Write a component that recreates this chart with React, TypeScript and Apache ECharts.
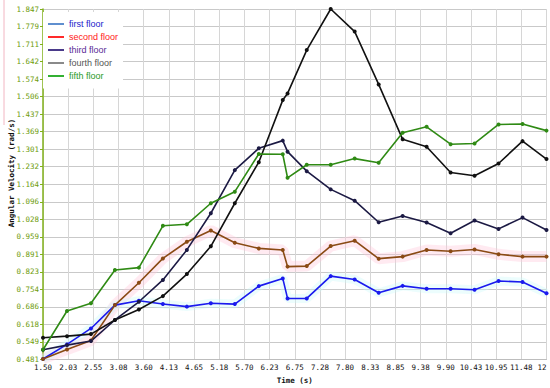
import React, { useEffect, useRef } from "react";
import * as echarts from "echarts";

const times = [1.5, 2, 2.5, 3, 3.5, 4, 4.5, 5, 5.5, 6, 6.5, 6.6, 7, 7.5, 8, 8.5, 9, 9.5, 10, 10.5, 11, 11.5, 12];

const firstFloor = [0.483, 0.54, 0.602, 0.693, 0.71, 0.697, 0.687, 0.7, 0.697, 0.767, 0.797, 0.719, 0.719, 0.806, 0.793, 0.741, 0.768, 0.757, 0.757, 0.753, 0.787, 0.783, 0.739];
const secondFloor = [0.483, 0.52, 0.555, 0.693, 0.78, 0.875, 0.94, 0.984, 0.936, 0.914, 0.908, 0.843, 0.845, 0.923, 0.944, 0.874, 0.882, 0.908, 0.903, 0.91, 0.891, 0.882, 0.882];
const thirdFloor = [0.519, 0.537, 0.553, 0.635, 0.706, 0.791, 0.908, 1.051, 1.219, 1.304, 1.334, 1.291, 1.215, 1.144, 1.1, 1.016, 1.04, 1.015, 0.973, 1.023, 0.99, 1.034, 0.986];
const fourthFloor = [0.566, 0.572, 0.58, 0.635, 0.676, 0.728, 0.814, 0.922, 1.09, 1.25, 1.492, 1.518, 1.687, 1.847, 1.759, 1.553, 1.339, 1.31, 1.21, 1.197, 1.245, 1.332, 1.262];
const fifthFloor = [0.519, 0.67, 0.7, 0.83, 0.839, 1.002, 1.008, 1.09, 1.135, 1.282, 1.281, 1.189, 1.24, 1.24, 1.264, 1.248, 1.365, 1.388, 1.32, 1.323, 1.397, 1.399, 1.373];

const xTickLabels = ["1.50", "2.03", "2.55", "3.08", "3.60", "4.13", "4.65", "5.18", "5.70", "6.23", "6.75", "7.28", "7.80", "8.33", "8.85", "9.38", "9.90", "10.43", "10.95", "11.48", "12"];
const yTickLabels = ["0.481", "0.549", "0.618", "0.686", "0.754", "0.823", "0.891", "0.959", "1.028", "1.096", "1.164", "1.232", "1.301", "1.369", "1.437", "1.506", "1.574", "1.642", "1.711", "1.779", "1.847"];

const seriesNames = ["first floor", "second floor", "third floor", "fourth floor", "fifth floor"];
const lineColors = ["#1a1aee", "#8a4a14", "#1c1a44", "#111111", "#2f8a14"];
const legendIconColors = ["#5f8fcf", "#ff2a2a", "#4a3a8a", "#8a8a8a", "#33b033"];
const legendTextColors = ["#2222cc", "#ff2020", "#5a2a96", "#555555", "#2a9a2a"];

const X_MIN = 1.5, X_MAX = 12, X_INT = 0.525;
const Y_MIN = 0.481, Y_MAX = 1.847, Y_INT = 0.0683;

function pairs(vals: number[]) {
  return times.map((t, i) => [t, vals[i]]);
}

export default function App() {
  const ref = useRef<HTMLDivElement>(null);
  useEffect(() => {
    if (!ref.current) return;
    const chart = echarts.init(ref.current, null, { renderer: "svg" });
    const all = [firstFloor, secondFloor, thirdFloor, fourthFloor, fifthFloor];
    const mono = "DejaVu Sans Mono";
    const lineSeries = all.map((vals, i) => ({
      name: seriesNames[i],
      type: "line",
      data: pairs(vals),
      symbol: "circle",
      symbolSize: 4,
      showSymbol: true,
      lineStyle: { color: lineColors[i], width: 1.6 },
      itemStyle: { color: lineColors[i] },
      z: 3,
    }));
    const bandSeries = [
      {
        type: "line",
        data: pairs(secondFloor),
        symbol: "none",
        silent: true,
        lineStyle: { color: "rgba(255,200,218,0.38)", width: 11 },
        z: 1,
      },
      {
        type: "line",
        data: pairs(firstFloor),
        symbol: "none",
        silent: true,
        lineStyle: { color: "rgba(200,250,250,0.35)", width: 9 },
        z: 1,
      },
    ];
    chart.setOption({
      animation: false,
      backgroundColor: "#ffffff",
      grid: { left: 43, right: 3.5, top: 9, bottom: 28.5, containLabel: false, outerBoundsMode: "none" },
      legend: {
        orient: "vertical",
        left: 43,
        top: 12,
        padding: [7.5, 5, 8, 5],
        backgroundColor: "#ffffff",
        itemWidth: 16,
        itemHeight: 2,
        itemGap: 4,
        icon: "rect",
        textStyle: { fontSize: 9, fontFamily: "Liberation Sans" },
        data: seriesNames.map((n, i) => ({
          name: n,
          icon: "rect",
          itemStyle: { color: legendIconColors[i] },
          lineStyle: { color: legendIconColors[i] },
          textStyle: { color: legendTextColors[i], fontSize: 9, fontFamily: "Liberation Sans" },
        })),
      },
      xAxis: {
        type: "value",
        min: X_MIN,
        max: X_MAX,
        interval: X_INT,
        name: "Time (s)",
        nameLocation: "middle",
        nameGap: 17,
        nameTextStyle: { fontFamily: mono, fontWeight: "bold", fontSize: 7.5, color: "#111" },
        axisLine: { show: true, lineStyle: { color: "#bdbdbd", width: 1 } },
        axisTick: { show: false },
        axisLabel: {
          color: "#111",
          fontSize: 7.5,
          fontFamily: mono,
          margin: 4,
          alignMaxLabel: "right",
          formatter: (v: number) => xTickLabels[Math.round((v - X_MIN) / X_INT)] ?? "",
        },
        splitLine: { show: true, lineStyle: { color: "#d6d6d6", width: 1 } },
      },
      yAxis: {
        type: "value",
        min: Y_MIN,
        max: Y_MAX,
        interval: Y_INT,
        axisLine: { show: true, lineStyle: { color: "#80b01a", width: 1.5 } },
        axisTick: { show: true, length: 3, lineStyle: { color: "#80b01a" } },
        axisLabel: {
          color: "#6e9c0c",
          fontSize: 7.5,
          fontFamily: mono,
          margin: 4,
          overflow: "none",
          width: 40,
          formatter: (v: number) => yTickLabels[Math.round((v - Y_MIN) / Y_INT)] ?? "",
        },
        splitLine: { show: true, lineStyle: { color: "#c9c9c9", width: 1 } },
      },
      graphic: [
        {
          type: "line",
          shape: { x1: 4, y1: 0, x2: 4, y2: 125 },
          style: { stroke: "#f2b6c2", lineWidth: 1 },
        },
        {
          type: "text",
          x: 11,
          y: 173,
          rotation: Math.PI / 2,
          style: {
            text: "Angular Velocity (rad/s)",
            fill: "#111",
            font: "bold 7.5px 'DejaVu Sans Mono'",
            textAlign: "center",
            textVerticalAlign: "middle",
          },
        },
      ],
      series: [...bandSeries, ...lineSeries],
    });
    return () => chart.dispose();
  }, []);
  return <div ref={ref} style={{ width: 550, height: 388, position: "absolute", left: 0, top: 0 }} />;
}
